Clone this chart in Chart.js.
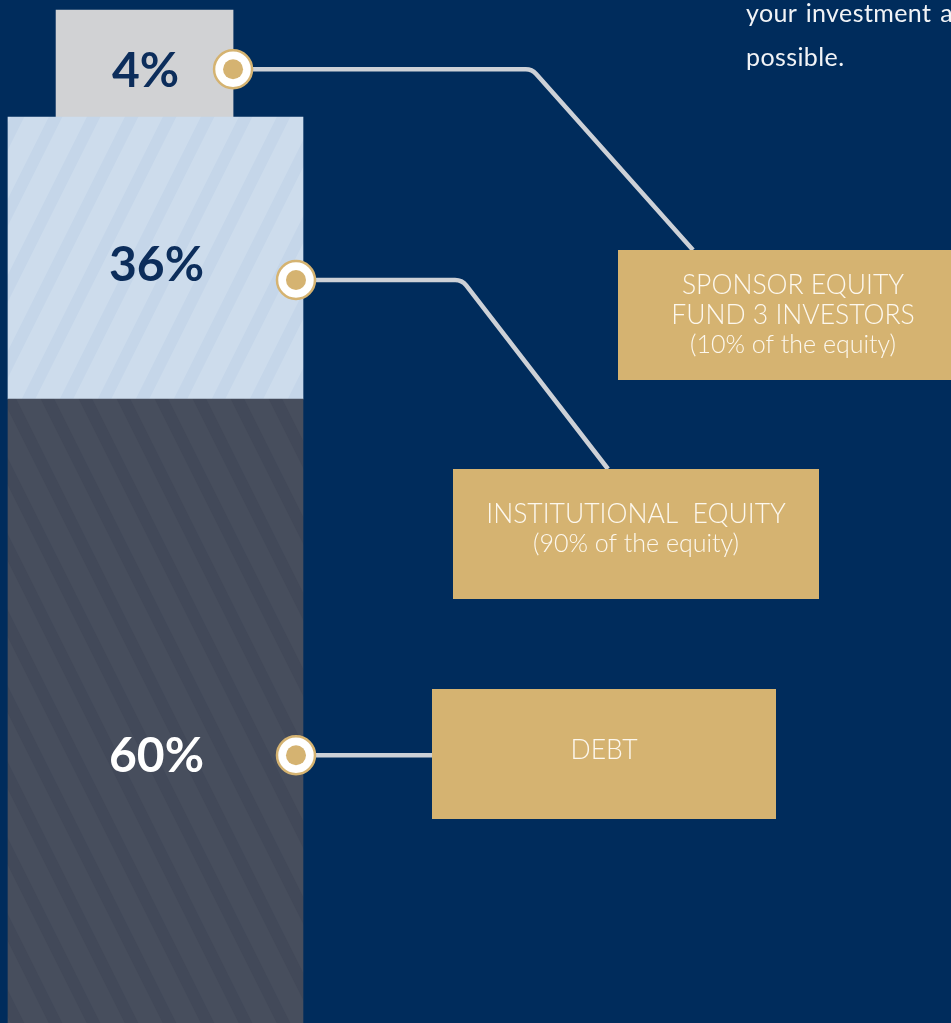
<!DOCTYPE html>
<html>
<head>
<meta charset="utf-8">
<script src="https://cdn.jsdelivr.net/npm/chart.js@4.4.1/dist/chart.umd.min.js"></script>
<style>
  html, body { margin: 0; padding: 0; background: #002c5c; overflow: hidden; }
  #wrap { position: relative; width: 951px; height: 1023px; overflow: hidden; }
  #chart { position: absolute; left: 0; top: 0; }
  .para { position: absolute; left: 746px; top: -10px; width: 400px; font: 400 25px/44px Lato, sans-serif; letter-spacing: 0.4px; word-spacing: 2px; color: #f1f3f6; white-space: nowrap; }
</style>
</head>
<body>
<div id="wrap">
  <canvas id="chart" width="951" height="1023"></canvas>
  <div class="para">your investment a<br>possible.</div>
</div>
<script>
// capital stack, bottom to top
const categories = ['Debt', 'Institutional equity', 'Sponsor equity'];
const shares = [60, 36, 4];                       // % printed on each block
const drawnHeights = [61, 27.56, 10.46];          // block heights as drawn (the graphic is not to scale)
const boxTitles = [['DEBT'], ['INSTITUTIONAL  EQUITY'], ['SPONSOR EQUITY', 'FUND 3 INVESTORS']];
const boxNotes = ['', '(90% of the equity)', '(10% of the equity)'];

// layout stuff (pixels / axis units)
const layout = {
  columnX: 16.35, capX: 15.2,
  columnWidth: 295, capWidth: 177,
  markerInset: [7, 7, 0],
  markerAt: [0.571, 0.578, 0.553],   // how far down each block the marker sits
  labelDy: [1, -14, 2],
  boxes: [
    { x: 432, y: 689, w: 344, h: 130 },
    { x: 453, y: 469, w: 366, h: 130 },
    { x: 618, y: 250, w: 350, h: 130 }
  ],
  textDy: [-4, -5, 0],
  bendX: [null, 462, 532],
  endOffset: [0, 155, 75]     // where the leader hits the top of the box
};

const NAVY = '#002c5c', GOLD = '#d5b371', LINE = '#cdd1d7';

function stripes(base, line, dir) {
  const w = 38, h = 76;
  const c = document.createElement('canvas');
  c.width = w; c.height = h;
  const g = c.getContext('2d');
  g.fillStyle = base; g.fillRect(0, 0, w, h);
  g.strokeStyle = line; g.lineWidth = 12;
  for (const dx of [-w, 0, w]) {
    g.beginPath();
    if (dir === '/') { g.moveTo(dx - w, 2 * h); g.lineTo(dx + 2 * w, -h); }
    else { g.moveTo(dx - w, -h); g.lineTo(dx + 2 * w, 2 * h); }
    g.stroke();
  }
  return g.createPattern(c, 'repeat');
}

const fills = [
  stripes('#474e5d', '#424959', '\\'),
  stripes('#cddcec', '#c5d6e9', '/'),
  '#d1d2d4'
];
const labelColors = ['#ffffff', '#0c2d5b', '#0c2d5b'];

let floor = 0;
const datasets = categories.map((name, i) => {
  const lo = floor;
  floor += drawnHeights[i];
  const isCap = i === categories.length - 1;
  return {
    label: name,
    data: [{ x: isCap ? layout.capX : layout.columnX, y: [lo, floor] }],
    backgroundColor: fills[i],
    barThickness: isCap ? layout.capWidth : layout.columnWidth,
    grouped: false,
    borderWidth: 0
  };
});

const leaders = {
  id: 'leaders',
  afterDatasetsDraw(chart) {
    const ctx = chart.ctx;
    ctx.save();
    categories.forEach((name, i) => {
      const el = chart.getDatasetMeta(i).data[0];
      const top = Math.min(el.y, el.base), bottom = Math.max(el.y, el.base);
      const right = el.x + el.width / 2;
      const my = top + (bottom - top) * layout.markerAt[i];
      const mx = right - layout.markerInset[i];
      const box = layout.boxes[i];

      // percentage
      ctx.fillStyle = labelColors[i];
      ctx.font = '700 48px Lato, sans-serif';
      ctx.textAlign = 'center';
      ctx.textBaseline = 'middle';
      ctx.fillText(shares[i] + '%', el.x + 1, my + layout.labelDy[i]);

      // leader line
      ctx.strokeStyle = LINE;
      ctx.lineWidth = 4.5;
      ctx.beginPath();
      ctx.moveTo(mx, my);
      if (layout.bendX[i] == null) {
        ctx.lineTo(box.x, my);
      } else {
        const ex = box.x + layout.endOffset[i], ey = box.y;
        ctx.arcTo(layout.bendX[i], my, ex, ey, 14);
        ctx.lineTo(ex, ey);
      }
      ctx.stroke();

      // marker
      ctx.beginPath();
      ctx.arc(mx, my, 19, 0, Math.PI * 2);
      ctx.fillStyle = '#ffffff';
      ctx.fill();
      ctx.lineWidth = 2.5;
      ctx.strokeStyle = GOLD;
      ctx.stroke();
      ctx.beginPath();
      ctx.arc(mx, my, 10, 0, Math.PI * 2);
      ctx.fillStyle = GOLD;
      ctx.fill();

      // label box
      ctx.fillStyle = GOLD;
      ctx.fillRect(box.x, box.y, box.w, box.h);
      const lines = boxTitles[i].map(t => [t, '300 26.5px Lato, sans-serif']);
      if (boxNotes[i]) lines.push([boxNotes[i], '300 25px Lato, sans-serif']);
      const lh = 30;
      let ty = box.y + box.h / 2 + layout.textDy[i] - (lines.length - 1) * lh / 2;
      ctx.fillStyle = '#fdf8ee';
      lines.forEach(([t, f]) => {
        ctx.font = f;
        ctx.fillText(t, box.x + box.w / 2, ty);
        ty += lh;
      });
    });
    ctx.restore();
  }
};

new Chart(document.getElementById('chart'), {
  type: 'bar',
  data: { datasets },
  options: {
    responsive: false,
    animation: false,
    devicePixelRatio: 1,
    layout: { padding: 0 },
    plugins: { legend: { display: false }, tooltip: { enabled: false } },
    scales: {
      x: { type: 'linear', min: 0, max: 100, offset: false, display: false },
      y: { min: 0, max: 100, display: false }
    }
  },
  plugins: [{
    id: 'bg',
    beforeDraw(chart) {
      const c = chart.ctx;
      c.save();
      c.fillStyle = NAVY;
      c.fillRect(0, 0, chart.width, chart.height);
      c.restore();
    }
  }, leaders]
});
</script>
</body>
</html>
